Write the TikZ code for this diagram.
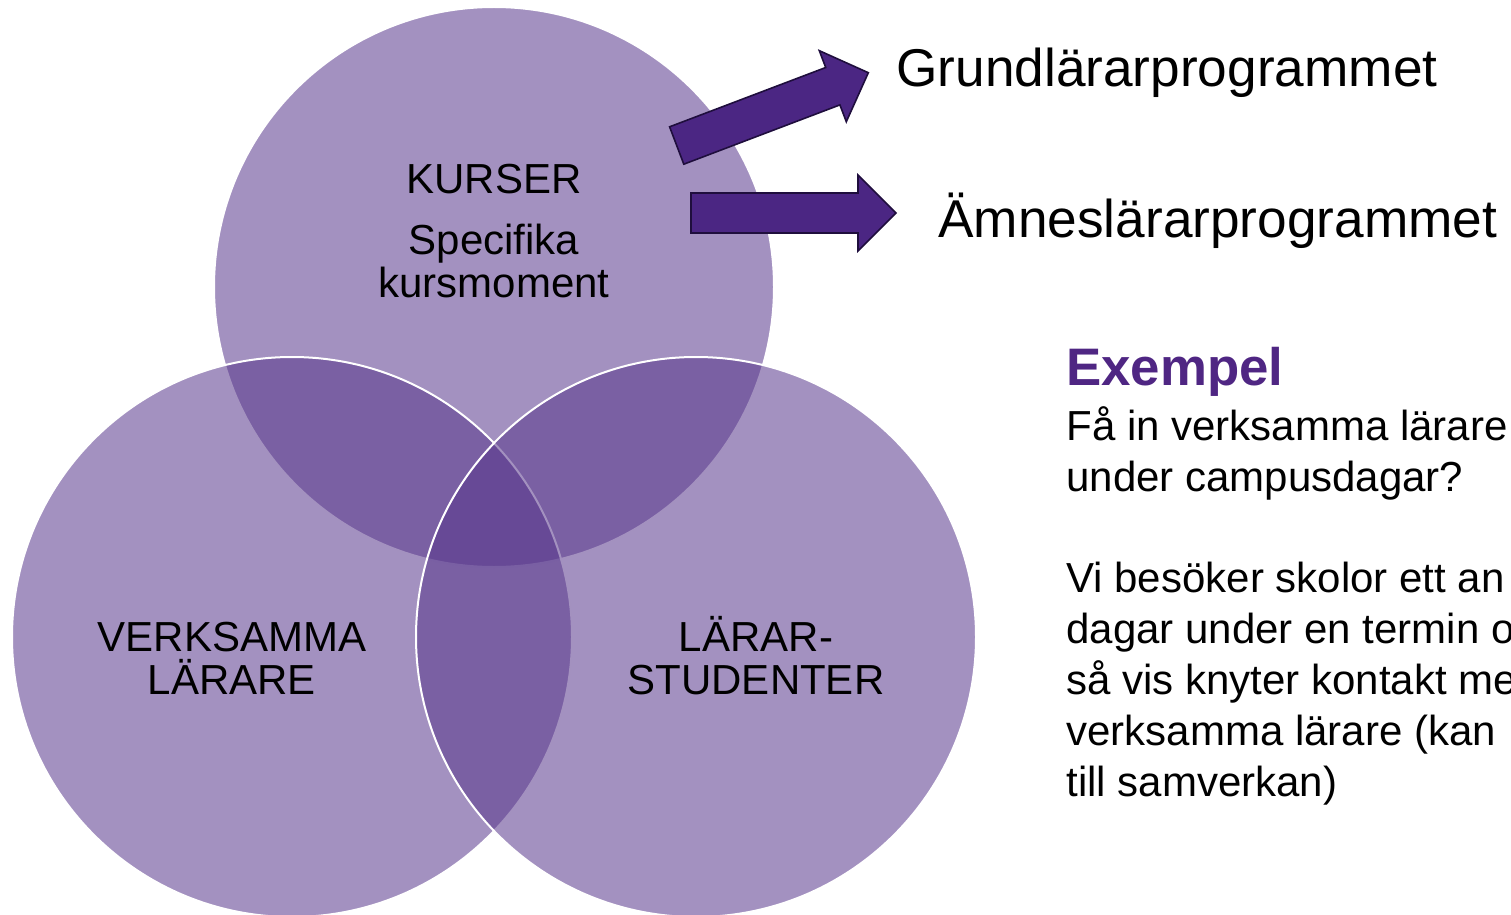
\documentclass[tikz,border=0pt]{standalone}
\usepackage{fontspec}
\setmainfont{Liberation Sans}

\definecolor{vennpurple}{HTML}{58378C}
\definecolor{arrowpurple}{HTML}{4B2683}
\definecolor{arrowedge}{HTML}{1F0E3D}
\definecolor{headpurple}{HTML}{4F2683}

\tikzset{
  venn/.style={fill=vennpurple, fill opacity=0.55, draw=white, line width=1pt},
  circlabel/.style={align=center, anchor=base, inner sep=0pt,
    font=\fontsize{21}{21.5}\selectfont},
  progtext/.style={anchor=base west, inner sep=0pt,
    font=\fontsize{26.6}{32}\selectfont},
  bodytext/.style={align=left, anchor=base west, inner sep=0pt,
    font=\fontsize{21}{25.5}\selectfont},
  arrowbody/.style={fill=arrowpurple, draw=arrowedge, line width=0.8pt},
  pics/bigarrow/.style={code={
    \draw[arrowbody] (0,-20) -- (167,-20) -- (167,-38) -- (205,0)
      -- (167,38) -- (167,20) -- (0,20) -- cycle;
  }}
}

\begin{document}
\begin{tikzpicture}[x=0.5pt, y=-0.5pt]
  \useasboundingbox (0,0) rectangle (1511,915);

  % three circles
  \draw[venn] (494,287) circle [radius=280];
  \draw[venn] (292,637) circle [radius=280];
  \draw[venn] (696,637) circle [radius=280];

  % labels (base = last line)
  \node[circlabel] (kurser) at (494,193) {KURSER};
  \node[circlabel] (specifika) at (494,297) {Specifika\\kursmoment};
  \node[circlabel] (verksamma) at (232,694) {VERKSAMMA\\LÄRARE};
  \node[circlabel] (studenter) at (756,694) {LÄRAR-\\STUDENTER};

  % arrows to the programmes
  \pic[rotate=20.8] at (676.7,145.5) {bigarrow};
  \pic at (691,213) {bigarrow};

  \node[progtext] (grund) at (896,87) {Grundlärarprogrammet};
  \node[progtext] (amnes) at (938,237) {Ämneslärarprogrammet};

  % example text
  \node[anchor=base west, inner sep=0pt, text=headpurple,
    font=\bfseries\fontsize{26.4}{30}\selectfont] (exempel) at (1066,385) {Exempel};
  \node[bodytext] (fraga) at (1066,796) {Få in verksamma lärare\\
    under campusdagar?\\[25pt]
    Vi besöker skolor ett an\\
    dagar under en termin o\\
    så vis knyter kontakt me\\
    verksamma lärare (kan\\
    till samverkan)};
\end{tikzpicture}
\end{document}
